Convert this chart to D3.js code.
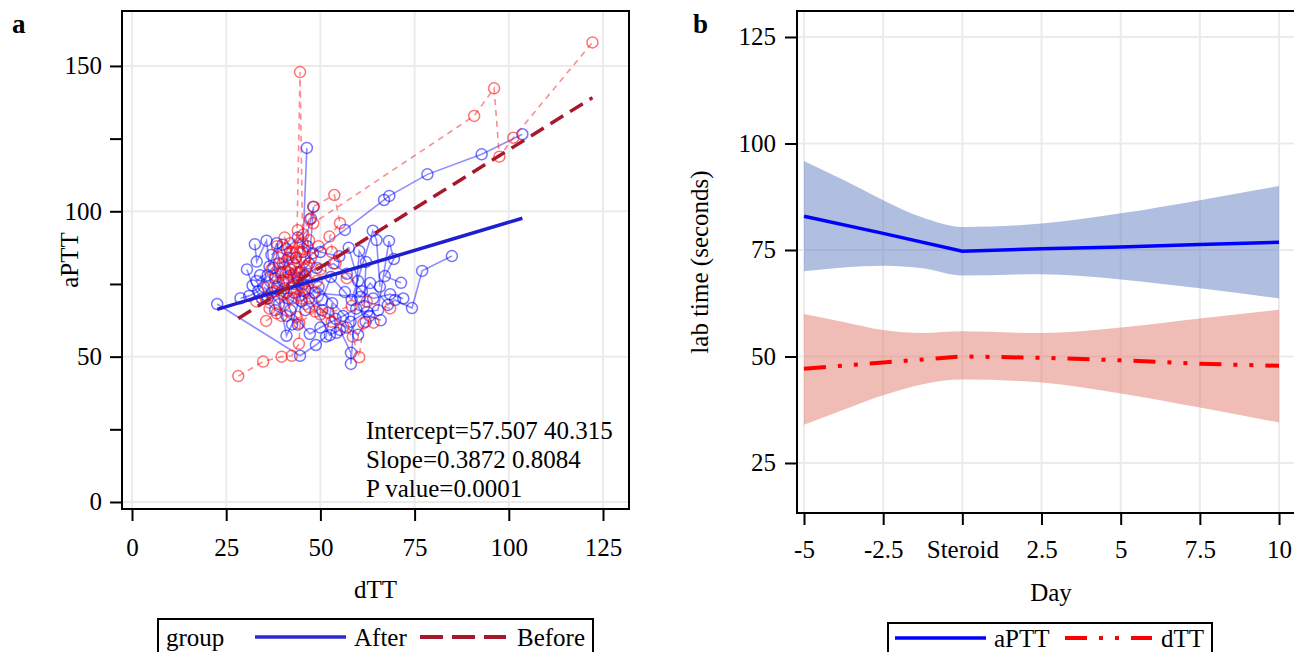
<!DOCTYPE html>
<html>
<head>
<meta charset="utf-8">
<script src="https://cdn.jsdelivr.net/npm/d3@7/dist/d3.min.js"></script>
<style>
  body { margin: 0; background: #fff; }
  svg text { font-family: "Liberation Serif", "Times New Roman", serif; fill: #000; }
</style>
</head>
<body>
<div id="chart"></div>
<script>
// ---- panel a: per-patient trajectories, [dTT, aPTT] ----
const afterPaths = [
  [[22.6,68.1],[44.6,50.3],[48.8,54.0],[51.5,56.9],[53.1,68.4],[54.3,58.2]],
  [[28.8,70.1],[31.1,70.9],[33.5,72.5],[36.0,78.0],[38.5,74.0],[41.0,57.2],[42.5,61.1],[45.5,75.0]],
  [[32.6,88.7],[33.1,82.7],[35.7,89.9],[36.5,81.0],[38.4,89.0],[39.5,79.0],[41.5,84.0]],
  [[46.4,121.8],[45.3,86.0],[47.5,97.5],[48.2,101.5],[47.0,82.0],[44.0,77.0]],
  [[40.0,76.0],[48.0,85.6],[56.5,93.6],[66.9,103.9],[68.3,105.3],[78.4,112.7],[92.8,119.6],[103.6,126.5]],
  [[34.0,78.0],[37.0,72.0],[41.5,70.0],[46.0,66.0],[50.4,69.5],[52.8,77.4],[56.5,72.2],[58.3,69.5],[63.9,93.3],[64.9,90.1],[65.8,74.1]],
  [[35.0,74.0],[39.0,68.0],[43.0,72.0],[47.0,70.0],[52.5,57.4],[55.2,59.2],[58.1,51.3],[58.1,47.5],[60.3,86.3],[62.1,82.6],[61.6,67.4]],
  [[38.0,77.0],[42.0,80.0],[45.0,69.0],[49.5,74.0],[58.0,62.0],[62.4,65.4],[65.3,66.0],[68.2,89.8],[69.5,83.6],[67.1,77.7],[71.4,75.4]],
  [[36.0,70.0],[40.5,73.5],[44.5,79.0],[48.5,72.0],[60.5,70.5],[63.2,75.3],[67.9,67.8],[69.8,69.5],[74.3,66.7],[77.0,79.5],[84.9,84.6]],
  [[33.0,76.0],[37.5,80.5],[42.0,66.0],[47.2,57.8],[50.0,60.0],[56.0,64.0],[59.5,66.5],[63.0,64.0],[66.0,62.5]],
  [[39.0,82.0],[43.5,84.0],[46.0,78.0],[49.0,80.5],[53.5,82.0],[57.0,78.5],[61.0,72.5],[64.0,70.0],[68.5,71.5],[72.0,70.0]],
  [[41.0,87.0],[44.0,91.0],[46.5,88.0],[50.0,86.0],[55.0,84.5],[57.5,87.5],[60.0,76.0]],
  [[37.0,85.0],[40.0,88.5],[43.0,75.0],[46.0,73.0],[50.5,66.0],[54.0,63.0],[57.0,60.0],[60.0,57.5],[62.0,62.0]],
  [[30.5,80.0],[32.0,74.5],[34.5,70.0],[38.0,66.0],[41.0,64.0],[44.0,61.0]]
];

const beforePaths = [
  [[28.2,43.3],[34.8,48.3],[39.7,50.0],[42.4,50.3],[44.3,54.4],[45.0,70.0],[43.0,78.0]],
  [[43.6,79.0],[44.6,147.9],[45.3,89.0],[46.0,84.0]],
  [[42.0,86.0],[45.5,92.0],[48.1,95.9],[90.8,132.8],[96.1,142.3],[97.5,118.8],[101.2,125.3],[122.2,158.1]],
  [[40.0,82.0],[47.2,97.2],[48.1,101.6],[53.7,105.6],[55.2,95.9],[52.4,91.3],[54.0,82.1]],
  [[35.6,62.3],[38.4,64.9],[39.7,64.0],[43.7,63.7],[44.4,61.5],[48.6,65.5],[52.1,65.1],[58.3,67.4],[62.3,68.9],[68.5,66.6]],
  [[36.0,74.0],[38.0,78.0],[41.0,72.0],[44.0,76.0],[56.1,60.3],[58.6,56.9],[60.3,49.8],[61.4,61.5],[64.1,61.7]],
  [[37.0,80.0],[39.0,84.0],[41.0,76.5],[43.0,82.0],[45.0,79.0],[47.5,84.0],[50.0,80.0],[57.0,77.0]],
  [[35.5,70.0],[38.0,72.5],[40.5,68.0],[42.5,74.0],[44.5,71.0],[46.5,76.0],[48.0,72.0]],
  [[38.5,88.0],[40.5,91.0],[42.5,86.0],[44.0,93.5],[45.5,87.0],[47.0,90.0]],
  [[33.0,69.0],[36.5,66.5],[39.0,75.0],[41.5,79.0],[43.5,84.0],[46.0,80.0],[49.0,76.0]],
  [[39.5,72.0],[41.0,83.0],[42.0,89.0],[43.0,77.0],[44.5,86.0],[46.5,81.0],[49.5,88.0],[53.0,86.0]],
  [[40.0,79.0],[42.5,70.0],[45.0,74.0],[47.0,67.0],[50.0,64.5],[53.0,62.0]]
];

const fitGroups     = ['After', 'Before'];
const fitIntercepts = [57.507, 40.315];
const fitSlopes     = [0.3872, 0.8084];
const statLines     = ['Intercept=57.507 40.315', 'Slope=0.3872 0.8084', 'P value=0.0001'];

const aXTicks      = [0, 25, 50, 75, 100, 125];
const aYTicks      = [0, 50, 100, 150];
const aYMinorTicks = [25, 75, 125];

// ---- panel b: mean lab time and confidence band by day ----
const days     = [-5, -2.5, 0, 2.5, 5, 7.5, 10];
const aPTTMean = [82.9, 78.9, 74.7, 75.3, 75.7, 76.3, 76.8];
const dTTMean  = [47.1, 48.6, 50.0, 49.7, 49.1, 48.3, 47.8];

const bandDays  = [-5, -3.75, -2.5, -1.25, 0, 2.5, 5, 7.5, 10];
const aPTTUpper = [95.9, 91.4, 86.7, 82.6, 80.4, 81.2, 83.6, 86.7, 90.0];
const aPTTLower = [70.0, 70.9, 71.3, 70.7, 69.0, 69.3, 68.1, 66.0, 63.6];
const dTTUpper  = [60.0, 58.1, 56.2, 55.5, 55.9, 55.5, 56.8, 58.9, 61.0];
const dTTLower  = [34.0, 37.5, 40.9, 43.5, 44.6, 43.9, 41.3, 38.0, 34.5];

const bXTicks = [-5, -2.5, 0, 2.5, 5, 7.5, 10];
const bYTicks = [25, 50, 75, 100, 125];

const W = 1294, H = 652;
const FONT = 25;

const svg = d3.select('#chart').append('svg')
  .attr('width', W).attr('height', H)
  .attr('viewBox', `0 0 ${W} ${H}`);

function styleAxis(g) {
  g.select('.domain').remove();
  g.attr('font-family', null).attr('font-size', null);
  g.selectAll('.tick line').attr('stroke', '#000').attr('stroke-width', 2);
  g.selectAll('.tick text').attr('font-size', FONT);
}

// ================= panel a =================
const A = { left: 122, right: 629, top: 11, bottom: 509 };

const xa = d3.scaleLinear().domain([-2.654, 131.9]).range([A.left, A.right]);
const ya = d3.scaleLinear().domain([-2.41, 168.9]).range([A.bottom, A.top]);

const ga = svg.append('g');

ga.append('clipPath').attr('id', 'clipA')
  .append('rect')
  .attr('x', A.left).attr('y', A.top)
  .attr('width', A.right - A.left).attr('height', A.bottom - A.top);

// grid
ga.append('g').selectAll('line')
  .data(aXTicks).join('line')
  .attr('x1', d => xa(d)).attr('x2', d => xa(d))
  .attr('y1', A.top).attr('y2', A.bottom)
  .attr('stroke', '#ebebeb').attr('stroke-width', 2);
ga.append('g').selectAll('line')
  .data(aYTicks).join('line')
  .attr('y1', d => ya(d)).attr('y2', d => ya(d))
  .attr('x1', A.left).attr('x2', A.right)
  .attr('stroke', '#ebebeb').attr('stroke-width', 2);

const plotA = ga.append('g').attr('clip-path', 'url(#clipA)');
const lineA = d3.line().x(d => xa(d[0])).y(d => ya(d[1]));

function drawGroup(paths, color, dash) {
  const g = plotA.append('g');
  g.selectAll('path')
    .data(paths).join('path')
    .attr('d', lineA)
    .attr('fill', 'none')
    .attr('stroke', color)
    .attr('stroke-opacity', 0.45)
    .attr('stroke-width', 1.6)
    .attr('stroke-dasharray', dash);
  g.selectAll('circle')
    .data(paths.flat()).join('circle')
    .attr('cx', d => xa(d[0]))
    .attr('cy', d => ya(d[1]))
    .attr('r', 5.5)
    .attr('fill', 'none')
    .attr('stroke', color)
    .attr('stroke-opacity', 0.55)
    .attr('stroke-width', 1.5);
}

drawGroup(afterPaths, '#0000ff', null);
drawGroup(beforePaths, '#ff0000', '6,5');

// regression lines over each group's dTT range
const fitStyles = [
  { color: '#1f1fd2', dash: null },
  { color: '#a8182c', dash: '15,8' }
];
[afterPaths, beforePaths].forEach((paths, i) => {
  const [x0, x1] = d3.extent(paths.flat(), d => d[0]);
  const f = x => fitIntercepts[i] + fitSlopes[i] * x;
  plotA.append('line')
    .attr('class', 'fit-' + fitGroups[i])
    .attr('x1', xa(x0)).attr('y1', ya(f(x0)))
    .attr('x2', xa(x1)).attr('y2', ya(f(x1)))
    .attr('stroke', fitStyles[i].color)
    .attr('stroke-width', 3.5)
    .attr('stroke-dasharray', fitStyles[i].dash);
});

// stats text
ga.append('g').selectAll('text')
  .data(statLines).join('text')
  .attr('x', 366)
  .attr('y', (d, i) => 439 + i * 29)
  .attr('font-size', FONT)
  .text(d => d);

// frame
ga.append('rect')
  .attr('x', A.left).attr('y', A.top)
  .attr('width', A.right - A.left).attr('height', A.bottom - A.top)
  .attr('fill', 'none').attr('stroke', '#000').attr('stroke-width', 2);

ga.append('g')
  .attr('transform', `translate(0,${A.bottom})`)
  .call(d3.axisBottom(xa).tickValues(aXTicks).tickSize(12).tickPadding(17).tickSizeOuter(0))
  .call(g => styleAxis(g));

ga.append('g')
  .attr('transform', `translate(${A.left},0)`)
  .call(d3.axisLeft(ya).tickValues(aYTicks).tickSize(12).tickPadding(8).tickSizeOuter(0))
  .call(g => styleAxis(g));

ga.append('g')
  .attr('transform', `translate(${A.left},0)`)
  .call(d3.axisLeft(ya).tickValues(aYMinorTicks).tickSize(12).tickFormat('').tickSizeOuter(0))
  .call(g => styleAxis(g));

ga.append('text')
  .attr('x', (A.left + A.right) / 2).attr('y', 598)
  .attr('text-anchor', 'middle').attr('font-size', FONT)
  .text('dTT');

ga.append('text')
  .attr('transform', `translate(69,${(A.top + A.bottom) / 2}) rotate(-90)`)
  .attr('text-anchor', 'middle').attr('dominant-baseline', 'central')
  .attr('font-size', FONT)
  .text('aPTT');

ga.append('text')
  .attr('x', 12).attr('y', 33)
  .attr('font-size', 27).attr('font-weight', 'bold')
  .text('a');

// legend a
const legA = ga.append('g');
legA.append('rect')
  .attr('x', 158).attr('y', 619).attr('width', 435).attr('height', 42)
  .attr('fill', '#fff').attr('stroke', '#000').attr('stroke-width', 2);
legA.append('text').attr('x', 166).attr('y', 646).attr('font-size', FONT).text('group');
legA.append('line')
  .attr('x1', 255).attr('x2', 346).attr('y1', 637).attr('y2', 637)
  .attr('stroke', '#2b2bcf').attr('stroke-width', 3.5);
legA.append('text').attr('x', 354).attr('y', 646).attr('font-size', FONT).text(fitGroups[0]);
legA.append('line')
  .attr('x1', 420).attr('x2', 506).attr('y1', 637).attr('y2', 637)
  .attr('stroke', '#a8182c').attr('stroke-width', 4).attr('stroke-dasharray', '23,9');
legA.append('text').attr('x', 517).attr('y', 646).attr('font-size', FONT).text(fitGroups[1]);

// ================= panel b =================
const B = { left: 797, right: 1305, top: 11, bottom: 513 };

const xb = d3.scaleLinear().domain([-5.221, 10.82]).range([B.left, B.right]);
const yb = d3.scaleLinear().domain([13.26, 131.1]).range([B.bottom, B.top]);

const gb = svg.append('g');

gb.append('g').selectAll('line')
  .data(bXTicks).join('line')
  .attr('x1', d => xb(d)).attr('x2', d => xb(d))
  .attr('y1', B.top).attr('y2', B.bottom)
  .attr('stroke', '#ebebeb').attr('stroke-width', 2);
gb.append('g').selectAll('line')
  .data(bYTicks).join('line')
  .attr('y1', d => yb(d)).attr('y2', d => yb(d))
  .attr('x1', B.left).attr('x2', B.right)
  .attr('stroke', '#ebebeb').attr('stroke-width', 2);

const band = (lo, hi) => d3.area()
  .x((d, i) => xb(bandDays[i]))
  .y0((d, i) => yb(lo[i]))
  .y1((d, i) => yb(hi[i]))
  .curve(d3.curveMonotoneX)(bandDays);

gb.append('path').attr('d', band(aPTTLower, aPTTUpper))
  .attr('fill', '#617fc1').attr('fill-opacity', 0.5);
gb.append('path').attr('d', band(dTTLower, dTTUpper))
  .attr('fill', '#df7b6d').attr('fill-opacity', 0.5);

const meanLine = vals => d3.line()
  .x((d, i) => xb(days[i]))
  .y((d, i) => yb(vals[i]))(days);

gb.append('path').attr('d', meanLine(aPTTMean))
  .attr('fill', 'none').attr('stroke', '#0000ff').attr('stroke-width', 3.5);
gb.append('path').attr('d', meanLine(dTTMean))
  .attr('fill', 'none').attr('stroke', '#ff0000').attr('stroke-width', 4)
  .attr('stroke-dasharray', '22,12,4,12,4,12');

gb.append('rect')
  .attr('x', B.left).attr('y', B.top)
  .attr('width', B.right - B.left).attr('height', B.bottom - B.top)
  .attr('fill', 'none').attr('stroke', '#000').attr('stroke-width', 2);

gb.append('g')
  .attr('transform', `translate(0,${B.bottom})`)
  .call(d3.axisBottom(xb).tickValues(bXTicks).tickSize(12).tickPadding(15).tickSizeOuter(0)
    .tickFormat(d => d === 0 ? 'Steroid' : String(d)))
  .call(g => styleAxis(g));

gb.append('g')
  .attr('transform', `translate(${B.left},0)`)
  .call(d3.axisLeft(yb).tickValues(bYTicks).tickSize(12).tickPadding(9).tickSizeOuter(0))
  .call(g => styleAxis(g));

gb.append('text')
  .attr('x', (B.left + B.right) / 2).attr('y', 601)
  .attr('text-anchor', 'middle').attr('font-size', FONT)
  .text('Day');

gb.append('text')
  .attr('transform', `translate(699,${(B.top + B.bottom) / 2}) rotate(-90)`)
  .attr('text-anchor', 'middle').attr('dominant-baseline', 'central')
  .attr('font-size', FONT)
  .text('lab time (seconds)');

gb.append('text')
  .attr('x', 693).attr('y', 33)
  .attr('font-size', 27).attr('font-weight', 'bold')
  .text('b');

// legend b
const legB = gb.append('g');
legB.append('rect')
  .attr('x', 888).attr('y', 623).attr('width', 324).attr('height', 40)
  .attr('fill', '#fff').attr('stroke', '#000').attr('stroke-width', 2);
legB.append('line')
  .attr('x1', 895).attr('x2', 986).attr('y1', 638).attr('y2', 638)
  .attr('stroke', '#0000ff').attr('stroke-width', 3.5);
legB.append('text').attr('x', 994).attr('y', 647).attr('font-size', FONT).text('aPTT');
legB.append('line')
  .attr('x1', 1065).attr('x2', 1152).attr('y1', 638).attr('y2', 638)
  .attr('stroke', '#ff0000').attr('stroke-width', 4)
  .attr('stroke-dasharray', '22,12,4,12,4,12');
legB.append('text').attr('x', 1161).attr('y', 647).attr('font-size', FONT).text('dTT');
</script>
</body>
</html>
